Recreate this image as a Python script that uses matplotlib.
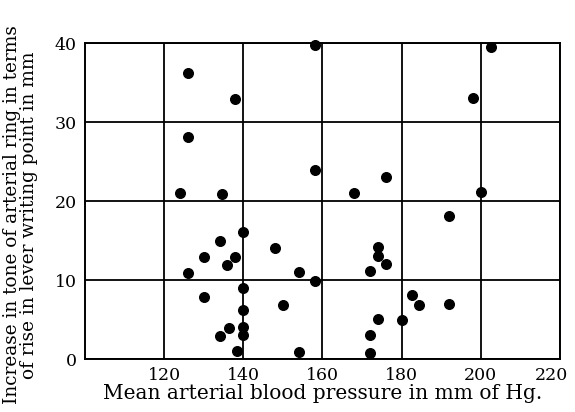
import matplotlib
matplotlib.use("Agg")
import matplotlib.pyplot as plt
from matplotlib.transforms import ScaledTranslation

# mean arterial blood pressure (mm Hg) and increase in tone (mm)
pressure = [126, 138, 126, 124, 134.5, 158, 202.5, 198, 158, 176, 168, 200,
            140, 134, 148, 130, 138, 136, 126, 154, 140, 130, 150, 140,
            140, 136.5, 140, 134, 138.5, 154, 192, 174, 174, 176, 172, 158,
            182.5, 184.5, 192, 174, 180, 172, 172]
tone = [36.2, 32.9, 28.1, 21.0, 20.9, 39.8, 39.5, 33.1, 23.9, 23.0, 21.0, 21.1,
        16.1, 15.0, 14.1, 12.9, 12.9, 11.9, 10.9, 11.0, 9.0, 7.9, 6.8, 6.2,
        4.1, 3.9, 3.0, 2.9, 1.0, 0.9, 18.1, 14.2, 13.1, 12.0, 11.1, 9.9,
        8.1, 6.9, 7.0, 5.1, 5.0, 3.0, 0.8]

x_ticks = [120, 140, 160, 180, 200, 220]
y_ticks = [0, 10, 20, 30, 40]

plt.rcParams['font.family'] = ['DejaVu Serif']

fig = plt.figure(figsize=(5.75, 4.12), dpi=100)
ax = fig.add_axes([0.1478, 0.1286, 0.8261, 0.767])

ax.scatter(pressure, tone, s=48, color='black', zorder=3, clip_on=False)

ax.set_xlim(100, 220)
ax.set_ylim(0, 40)
ax.set_xticks(x_ticks)
ax.set_yticks(y_ticks)
ax.tick_params(length=0, labelsize=12.5, pad=6)
ax.grid(True, color='black', linewidth=1.3)
for s in ax.spines.values():
    s.set_linewidth(1.4)
# nudge the last x label a bit left so it stays inside the figure
lbl = ax.get_xticklabels()[-1]
lbl.set_transform(lbl.get_transform() + ScaledTranslation(-6 / 72, 0, fig.dpi_scale_trans))

ax.set_xlabel('Mean arterial blood pressure in mm of Hg.', fontsize=14.5, labelpad=0)
ax.set_ylabel('Increase in tone of arterial ring in terms\nof rise in lever writing point in mm',
              fontsize=13.3, linespacing=0.95)
ax.yaxis.set_label_coords(-0.098, 0.456)

fig.savefig('out.png', dpi=100)
